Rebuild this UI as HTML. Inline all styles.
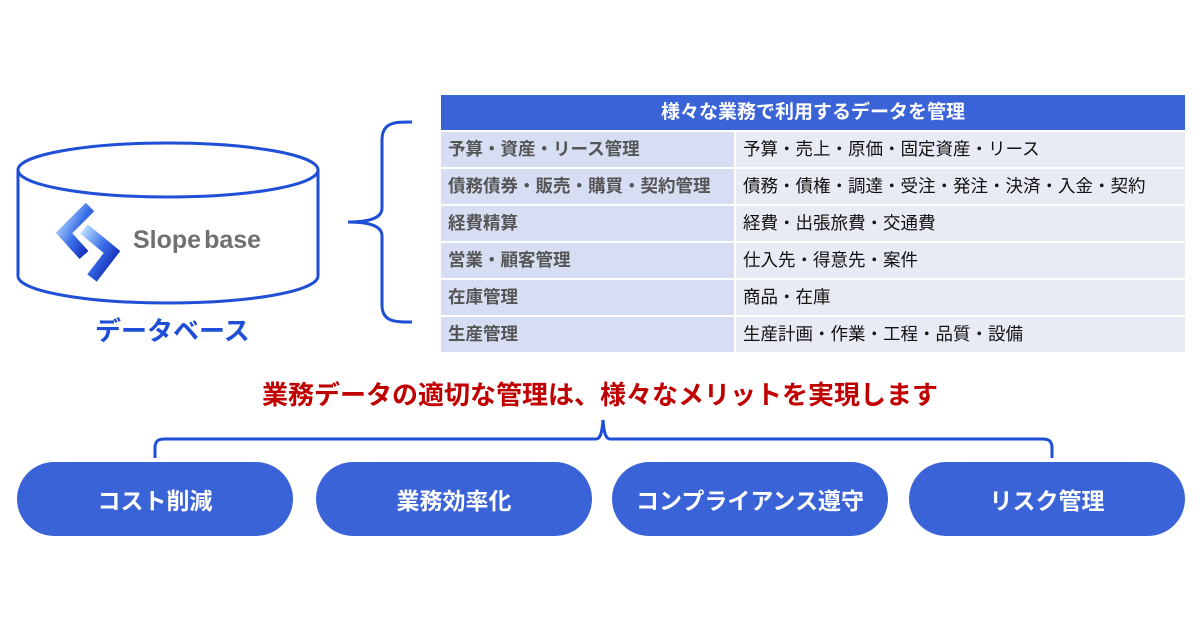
<!DOCTYPE html>
<html><head><meta charset="utf-8"><style>
body{margin:0;width:1200px;height:630px;background:#fff;position:relative;overflow:hidden;font-family:"Liberation Sans","Noto Sans CJK JP",sans-serif}
.a{position:absolute}
table{position:absolute;left:441px;top:95px;width:744px;border-collapse:collapse;font-size:17.5px;line-height:1}
th{background:#3b63d8;color:#fff;height:35px;font-size:19px;font-weight:bold;padding:0;border-bottom:2px solid #fff}
td{height:35px;padding:0 0 0 7px;border-bottom:2px solid #fff;vertical-align:middle}
td.l{background:#d7def4;color:#555;font-weight:bold;width:286px;border-right:2px solid #fff}
td.r{background:#e8ebf4;color:#111}
.pill{position:absolute;top:462px;width:276px;height:74px;border-radius:37px;background:#3b63d8;color:#fff;font-weight:bold;font-size:23px;display:flex;align-items:center;justify-content:center}
</style></head><body>
<svg class="a" style="left:0;top:0" width="1200" height="630">
<g fill="none" stroke="#1f4fd6" stroke-width="3">
<ellipse cx="168" cy="170" rx="150" ry="27"/>
<path d="M18 170 V276 A150 27 0 0 0 318 276 V170"/>
<path d="M412 122 C395 122 382 122 382 140 V208 C382 218 370 222 348 222 C370 222 382 226 382 236 V305 C382 322 395 322 412 322"/>
<path d="M155 458 V448 C155 441 158 439 165 439 H596 C600 439 602 434 603 420 C604 434 606 439 610 439 H1042 C1049 439 1052 441 1052 448 V458"/>
</g>
<defs><linearGradient id="g" x1="0" y1="0" x2="1" y2="1"><stop offset="0" stop-color="#b8dcff"/><stop offset="0.5" stop-color="#3a6ee8"/><stop offset="1" stop-color="#0a1fb0"/></linearGradient></defs>
<polyline points="90,207 64,233 84,255" fill="none" stroke="url(#g)" stroke-width="12" stroke-linejoin="miter"/>
<polyline points="84,229 112,252 92,278" fill="none" stroke="url(#g)" stroke-width="12" stroke-linejoin="miter"/>
</svg>
<div class="a" style="left:133px;top:226px;font-size:25px;color:#707070;font-weight:bold">Slope<span style="margin-left:3px">base</span></div>
<div class="a" style="left:95px;top:311px;font-size:26px;color:#1f4fd6;font-weight:bold">データベース</div>
<table>
<tr><th colspan="2">様々な業務で利用するデータを管理</th></tr>
<tr><td class="l">予算・資産・リース管理</td><td class="r">予算・売上・原価・固定資産・リース</td></tr>
<tr><td class="l">債務債券・販売・購買・契約管理</td><td class="r">債務・債権・調達・受注・発注・決済・入金・契約</td></tr>
<tr><td class="l">経費精算</td><td class="r">経費・出張旅費・交通費</td></tr>
<tr><td class="l">営業・顧客管理</td><td class="r">仕入先・得意先・案件</td></tr>
<tr><td class="l">在庫管理</td><td class="r">商品・在庫</td></tr>
<tr><td class="l">生産管理</td><td class="r">生産計画・作業・工程・品質・設備</td></tr>
</table>
<div class="a" style="left:0;width:1200px;top:375px;text-align:center;font-size:26px;font-weight:bold;color:#c00000">業務データの適切な管理は、様々なメリットを実現します</div>
<div class="pill" style="left:17px">コスト削減</div>
<div class="pill" style="left:316px">業務効率化</div>
<div class="pill" style="left:612px">コンプライアンス遵守</div>
<div class="pill" style="left:909px">リスク管理</div>
</body></html>
